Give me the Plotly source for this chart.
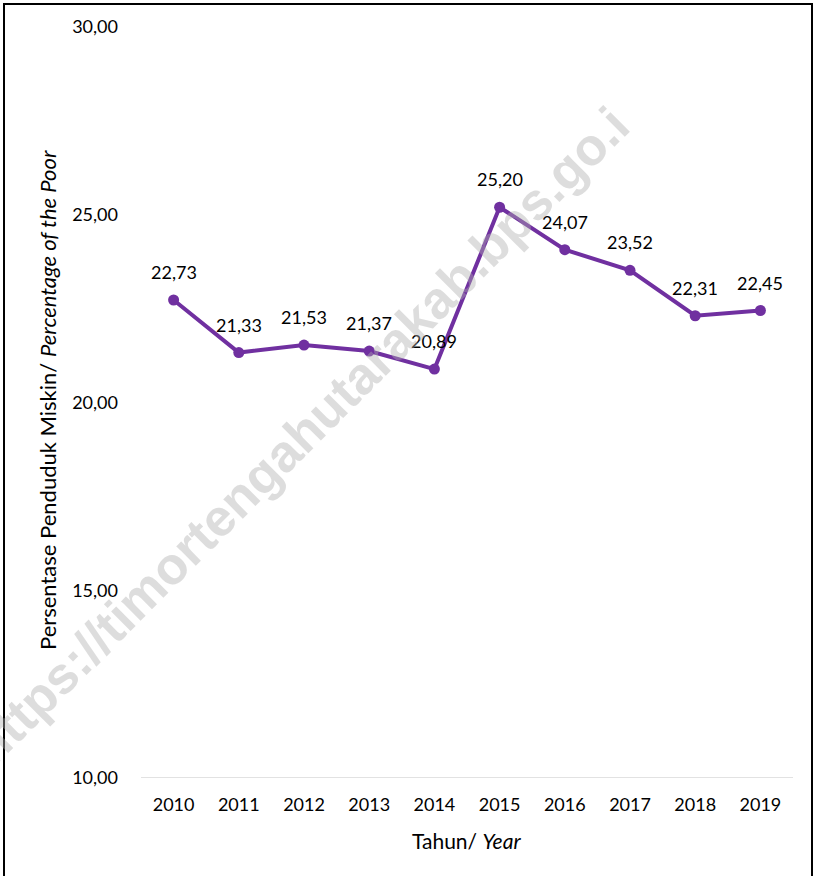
import plotly.graph_objects as go

years = ["2010", "2011", "2012", "2013", "2014", "2015", "2016", "2017", "2018", "2019"]
poor_pct = [22.73, 21.33, 21.53, 21.37, 20.89, 25.20, 24.07, 23.52, 22.31, 22.45]
y_ticks = [10, 15, 20, 25, 30]
y_tick_labels = ["10,00", "15,00", "20,00", "25,00", "30,00"]

W, H = 814, 876
L, R, T, B = 141, 21, 27, 98
pw, ph = W - L - R, H - T - B

def px_x(px):
    return (px - L) / pw

def px_y(py):
    return (H - B - py) / ph

FONT = "Lato, Calibri, Carlito, sans-serif"
PURPLE = "#7030A0"

fig = go.Figure()
fig.add_trace(go.Scatter(
    x=years, y=poor_pct, mode="lines+markers",
    line=dict(color=PURPLE, width=4),
    marker=dict(color=PURPLE, size=11),
    hoverinfo="skip", showlegend=False,
))

annotations = []
for i, v in enumerate(poor_pct):
    annotations.append(dict(
        x=i, y=v, xref="x", yref="y", text=f"{v:.2f}".replace(".", ","),
        showarrow=False, yshift=28, xanchor="center", yanchor="middle",
        font=dict(family=FONT, size=18, color="#000"),
    ))

# axis titles
annotations.append(dict(
    x=px_x(466), y=px_y(840), xref="paper", yref="paper",
    xanchor="center", yanchor="middle",
    text="Tahun/ <i>Year</i>", showarrow=False,
    font=dict(family=FONT, size=21, color="#000"),
))
annotations.append(dict(
    x=px_x(47), y=px_y(400), xref="paper", yref="paper",
    xanchor="center", yanchor="middle",
    text="Persentase Penduduk Miskin/ <i>Percentage of the Poor</i>", showarrow=False,
    textangle=-90, font=dict(family=FONT, size=22, color="#000"),
))
# watermark
annotations.append(dict(
    x=px_x(300), y=px_y(436), xref="paper", yref="paper",
    xanchor="center", yanchor="middle",
    text="<b>https://timortengahutarakab.bps.go.i</b>", showarrow=False,
    textangle=-45, font=dict(family="Liberation Sans, Arial, sans-serif", size=52,
                             color="rgba(175,175,175,0.42)"),
))

shapes = [dict(
    type="rect", xref="paper", yref="paper",
    x0=px_x(4), x1=px_x(812), y0=px_y(884), y1=px_y(4),
    line=dict(color="#000", width=2), fillcolor="rgba(0,0,0,0)", layer="above",
), dict(
    type="line", xref="paper", yref="y", x0=0, x1=1, y0=10, y1=10,
    line=dict(color="#d9d9d9", width=1.5), layer="below",
)]

fig.update_layout(
    width=W, height=H,
    margin=dict(l=L, r=R, t=T, b=B),
    paper_bgcolor="white", plot_bgcolor="white",
    font=dict(family=FONT, size=18, color="#000"),
    xaxis=dict(
        type="category", range=[-0.5, 9.5], showgrid=False, zeroline=False,
        showline=False, ticks="", ticklabelstandoff=14,
        tickfont=dict(family=FONT, size=18, color="#000"),
    ),
    yaxis=dict(
        range=[10, 30], tickvals=y_ticks, ticktext=y_tick_labels,
        showgrid=False, zeroline=False, showline=False,
        ticks="", ticklabelstandoff=22,
        tickfont=dict(family=FONT, size=18, color="#000"),
    ),
    annotations=annotations, shapes=shapes,
)

fig.write_html("out.html", config={"displayModeBar": False},
               post_script="document.body.style.margin='0';document.body.style.overflow='hidden';")
